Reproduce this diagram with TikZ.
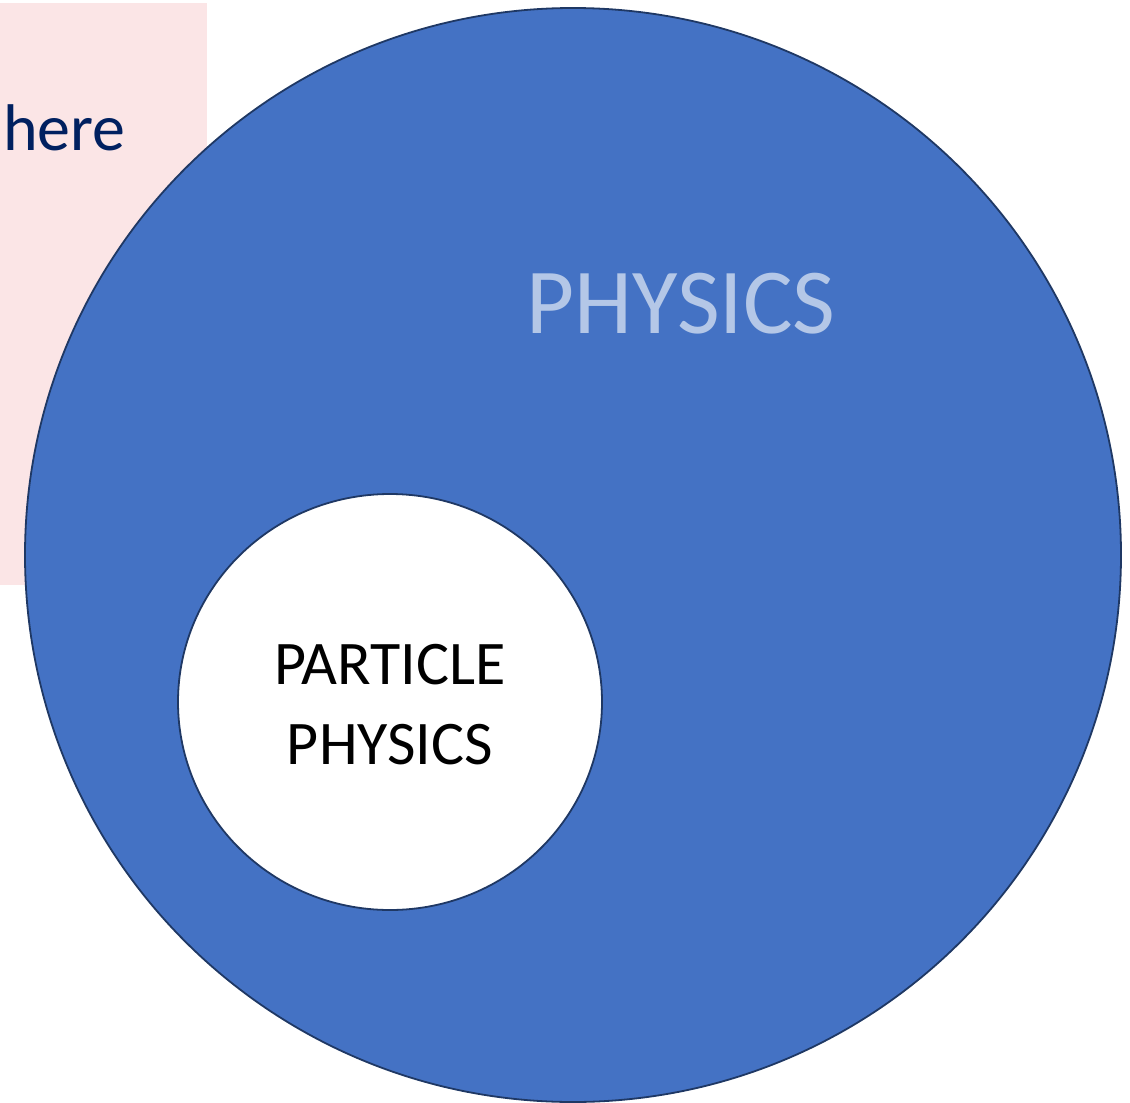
\documentclass[tikz,border=0pt]{standalone}
\usepackage{fontspec}
\setmainfont{Carlito}
\usetikzlibrary{shapes.geometric, positioning}
\definecolor{venblue}{HTML}{4472C4}
\definecolor{venedge}{HTML}{1F3864}
\definecolor{venlight}{HTML}{B4C7E7}
\definecolor{notepink}{HTML}{FBE5E6}
\definecolor{notenavy}{HTML}{002060}
\tikzset{
  set/.style={draw=venedge, line width=1.8pt, ellipse, inner sep=0pt},
  label/.style={inner sep=0pt, align=center},
}

\begin{document}
\begin{tikzpicture}[x=1pt, y=-1pt]
  \useasboundingbox (0,0) rectangle (1130,1103);
  \node[fill=notepink, minimum width=207pt, minimum height=582pt, anchor=north west, inner sep=0pt] (note) at (0,3) {};
  \node[label, anchor=base west, text=notenavy, font=\fontsize{66}{80}\selectfont] (here) at (3,150) {here};
  \node[set, fill=venblue, minimum width=1096pt, minimum height=1094pt] (phys) at (573,555) {};
  \node[label, anchor=base, text=venlight, font=\fontsize{93}{110}\selectfont] (physlbl) at (681,333) {PHYSICS};
  \node[set, fill=white, minimum width=424pt, minimum height=416pt] (part) at (390,702) {};
  \node[label, font=\fontsize{62}{80}\selectfont] (partlbl) at (390,705) {PARTICLE\\PHYSICS};
\end{tikzpicture}
\end{document}
